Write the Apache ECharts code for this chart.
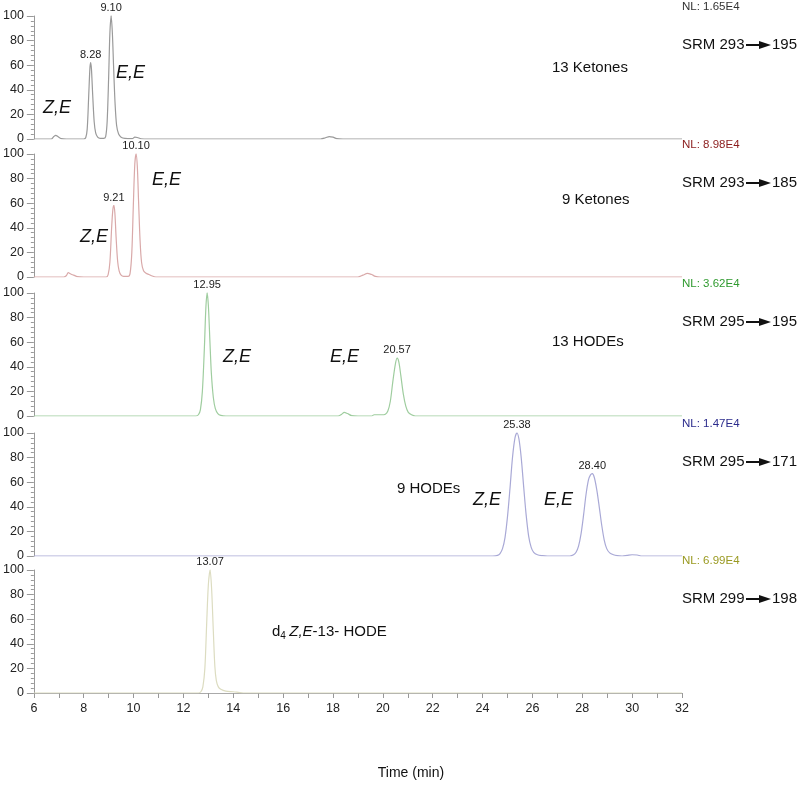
<!DOCTYPE html>
<html>
<head>
<meta charset="utf-8">
<title>SRM chromatograms</title>
<script src="https://cdn.jsdelivr.net/npm/echarts@6/dist/echarts.min.js"></script>
<style>
    html, body { margin: 0; padding: 0; background: #fff; }
    #chart { width: 800px; height: 788px; }
</style>
</head>
<body>
<div id="chart"></div>
<script>
// time (min), relative abundance (%)
var ketones13 = [[6,0],[6.7,0],[6.8,2],[6.88,3],[6.96,2],[7.1,0.3],[7.3,0],[8.0,0],[8.08,1],[8.14,8],[8.2,35],[8.25,58],[8.28,62],[8.31,57],[8.36,36],[8.42,14],[8.48,5],[8.56,1.5],[8.66,0.5],[8.8,0.5],[8.88,2],[8.94,14],[9.0,50],[9.05,86],[9.10,100],[9.15,86],[9.2,58],[9.26,28],[9.32,11],[9.4,4],[9.5,1.5],[9.65,0.5],[9.95,0.3],[10.05,1.5],[10.15,1.2],[10.3,0.2],[10.6,0],[17.5,0],[17.7,1],[17.85,2],[18.0,1.5],[18.15,0.3],[18.4,0],[32,0]];
var ketones9 = [[6,0],[7.2,0],[7.3,1],[7.38,3.5],[7.48,2.5],[7.6,1.5],[7.75,0.3],[8.0,0],[8.9,0],[8.98,2],[9.05,12],[9.12,40],[9.17,55],[9.21,58],[9.25,52],[9.3,32],[9.36,13],[9.42,5],[9.5,1.5],[9.6,0.5],[9.78,0.5],[9.86,3],[9.93,20],[9.99,58],[10.05,92],[10.10,100],[10.15,90],[10.2,62],[10.26,30],[10.32,12],[10.4,5],[10.5,3],[10.62,2],[10.72,1],[10.9,0],[19.0,0],[19.2,1.5],[19.38,3],[19.55,2],[19.7,0.5],[19.9,0],[32,0]];
var hodes13 = [[6,0],[12.5,0],[12.6,1],[12.68,5],[12.76,20],[12.84,55],[12.9,88],[12.95,100],[13.0,90],[13.06,62],[13.12,35],[13.2,15],[13.28,6],[13.38,2],[13.5,0.5],[13.7,0],[18.2,0],[18.35,1.5],[18.45,3],[18.58,2],[18.75,0.3],[19.0,0],[19.55,0],[19.65,1],[19.95,1],[20.1,1.5],[20.2,4],[20.3,12],[20.4,28],[20.5,42],[20.57,47],[20.64,44],[20.72,33],[20.82,18],[20.92,8],[21.02,3],[21.15,1],[21.3,0],[32,0]];
var hodes9 = [[6,0],[24.4,0],[24.6,0.5],[24.7,2],[24.8,6],[24.9,15],[25.0,32],[25.1,55],[25.2,80],[25.3,96],[25.38,100],[25.46,95],[25.55,80],[25.65,56],[25.75,33],[25.85,16],[25.95,7],[26.05,3],[26.2,1],[26.4,0.3],[26.6,0],[27.5,0],[27.65,1],[27.75,3],[27.85,8],[27.95,18],[28.05,33],[28.15,50],[28.25,62],[28.33,66],[28.40,67],[28.48,64],[28.58,54],[28.68,40],[28.78,25],[28.88,13],[28.98,6],[29.1,2.5],[29.25,1],[29.4,0.3],[29.6,0],[29.8,0.5],[30.0,1],[30.2,0.8],[30.4,0],[32,0]];
var d4hode = [[6,0],[12.6,0],[12.7,1],[12.78,5],[12.86,20],[12.93,55],[13.0,88],[13.07,100],[13.13,85],[13.2,50],[13.26,22],[13.32,10],[13.4,5],[13.5,3],[13.7,1.5],[14.0,1],[14.2,0.5],[14.4,0],[32,0]];

// labelled peak apexes per trace
var peaks = [[8.28, 9.10], [9.21, 10.10], [12.95, 20.57], [25.38, 28.40], [13.07]];
var normLevels = ['NL: 1.65E4', 'NL: 8.98E4', 'NL: 3.62E4', 'NL: 1.47E4', 'NL: 6.99E4'];
var srmFrom = ['293', '293', '295', '295', '299'];
var srmTo = ['195', '185', '195', '171', '198'];
var yTicks = [0, 20, 40, 60, 80, 100];
var timeRange = [6, 32];

var traces = [ketones13, ketones9, hodes13, hodes9, d4hode];
var lineColors = ['#9a9a9a', '#d9a9a9', '#9fcd9f', '#a9a9d6', '#dcdcc0'];
var nlColors = ['#333333', '#8b1c1c', '#2f9a2f', '#2b2b8c', '#9a9a22'];
var panelTops = [16, 154, 293, 433, 570];
var panelHeight = 123;
var font = 'Liberation Sans, Arial, sans-serif';

var chart = echarts.init(document.getElementById('chart'));

var grids = [], xAxes = [], yAxes = [], series = [], graphics = [];

traces.forEach(function (pts, i) {
    var last = i === traces.length - 1;
    grids.push({ left: 32, width: 650, top: panelTops[i], height: panelHeight });

    xAxes.push({
        gridIndex: i, type: 'value', min: timeRange[0], max: timeRange[1], interval: 2,
        show: last,
        axisLine: { show: true, lineStyle: { color: '#aaaaaa' } },
        axisTick: { show: true, length: 5, lineStyle: { color: '#999' } },
        minorTick: { show: true, splitNumber: 2, length: 5, lineStyle: { color: '#999' } },
        splitLine: { show: false },
        axisLabel: { margin: 9, fontSize: 12.5, color: '#222', fontFamily: font }
    });

    yAxes.push({
        gridIndex: i, type: 'value', min: yTicks[0], max: yTicks[yTicks.length - 1], interval: 20,
        axisLine: { show: true, lineStyle: { color: '#999' } },
        axisTick: { show: true, length: 7, lineStyle: { color: '#999' } },
        minorTick: { show: true, splitNumber: 5, length: 3, lineStyle: { color: '#999' } },
        splitLine: { show: false },
        axisLabel: { margin: 10, fontSize: 12.5, color: '#222', fontFamily: font }
    });

    // apex points get a tiny symbol so their retention-time label is drawn
    var data = pts.map(function (p) {
        if (peaks[i].indexOf(p[0]) >= 0) {
            return { value: p, symbol: 'circle', symbolSize: 1, label: { show: true } };
        }
        return p;
    });

    series.push({
        type: 'line', xAxisIndex: i, yAxisIndex: i, data: data,
        smooth: 0.3, symbol: 'none', showSymbol: true,
        lineStyle: { color: lineColors[i], width: 1.2 },
        itemStyle: { color: lineColors[i] },
        label: {
            show: false, position: 'top', distance: 2, fontSize: 11, color: '#222', fontFamily: font,
            formatter: function (p) { return p.value[0].toFixed(2); }
        },
        animation: false, silent: true
    });

    // normalisation level and SRM transition at the right
    var top = panelTops[i];
    graphics.push({
        type: 'text', left: 682, top: top - 15,
        style: { text: normLevels[i], fill: nlColors[i], font: '11.5px ' + font }
    });
    var sy = top + 29;
    graphics.push({
        type: 'text', x: 682, y: sy,
        style: { text: 'SRM ' + srmFrom[i], fill: '#111', font: '15px ' + font, verticalAlign: 'middle' }
    });
    graphics.push({
        type: 'line', shape: { x1: 746, y1: sy, x2: 762, y2: sy },
        style: { stroke: '#111', lineWidth: 2 }
    });
    graphics.push({
        type: 'polygon', shape: { points: [[759, sy - 4], [771, sy], [759, sy + 4]] },
        style: { fill: '#111' }
    });
    graphics.push({
        type: 'text', x: 772, y: sy,
        style: { text: srmTo[i], fill: '#111', font: '15px ' + font, verticalAlign: 'middle' }
    });
});

// compound names
function note(x, y, txt, italic) {
    graphics.push({
        type: 'text', x: x, y: y,
        style: {
            text: txt, fill: '#111', verticalAlign: 'middle',
            font: (italic ? 'italic 18px ' : '15px ') + font
        }
    });
}
note(552, 68, '13 Ketones');
note(562, 200, '9 Ketones');
note(552, 342, '13 HODEs');
note(397, 489, '9 HODEs');

// isomer tags
note(43, 108, 'Z,E', true);
note(116, 73, 'E,E', true);
note(80, 237, 'Z,E', true);
note(152, 180, 'E,E', true);
note(223, 357, 'Z,E', true);
note(330, 357, 'E,E', true);
note(473, 500, 'Z,E', true);
note(544, 500, 'E,E', true);

// d4 Z,E-13- HODE
graphics.push({
    type: 'text', x: 272, y: 632,
    style: {
        text: '{n|d}{s|4} {i|Z,E}{n|-13- HODE}', verticalAlign: 'middle',
        rich: {
            n: { font: '15px ' + font, fill: '#111' },
            s: { font: '10px ' + font, fill: '#111', padding: [8, 0, 0, 0] },
            i: { font: 'italic 15px ' + font, fill: '#111' }
        }
    }
});

graphics.push({
    type: 'text', x: 411, y: 773,
    style: { text: 'Time (min)', fill: '#111', font: '14px ' + font, align: 'center', verticalAlign: 'middle' }
});

chart.setOption({
    animation: false,
    grid: grids,
    xAxis: xAxes,
    yAxis: yAxes,
    series: series,
    graphic: graphics
});
</script>
</body>
</html>
